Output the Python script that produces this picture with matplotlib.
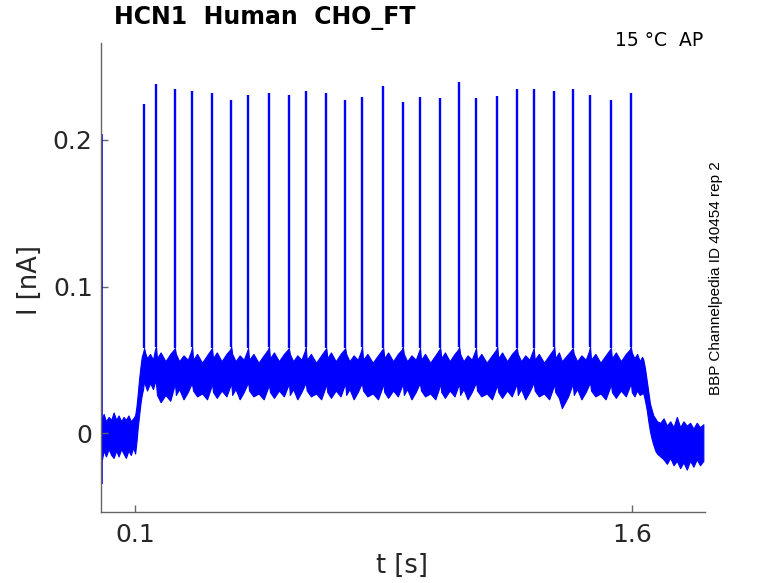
import numpy as np
import matplotlib
matplotlib.use("Agg")
import matplotlib.pyplot as plt

# ---------------- data ----------------
spike_t = [0.127, 0.163, 0.220, 0.272, 0.332, 0.390, 0.441, 0.504, 0.564,
           0.615, 0.677, 0.734, 0.785, 0.849, 0.908, 0.960, 1.021, 1.078,
           1.129, 1.193, 1.252, 1.303, 1.365, 1.421, 1.473, 1.536, 1.596]
spike_peak = [0.2244, 0.2382, 0.2348, 0.2334, 0.2319, 0.2273, 0.2307, 0.2321,
              0.2305, 0.2334, 0.2321, 0.2273, 0.2291, 0.2367, 0.2259, 0.2291,
              0.2287, 0.2398, 0.2289, 0.2302, 0.2350, 0.2348, 0.2334, 0.2350,
              0.2305, 0.2273, 0.2321]
spike_base_lo = [0.036, 0.034, 0.035, 0.033, 0.035, 0.034, 0.035, 0.033, 0.035,
                 0.034, 0.035, 0.034, 0.033, 0.035, 0.034, 0.033, 0.035, 0.034,
                 0.035, 0.033, 0.034, 0.035, 0.034, 0.033, 0.035, 0.034, 0.035]
spike_base_hi = [0.058, 0.059, 0.058, 0.059, 0.058, 0.059, 0.058, 0.059, 0.058,
                 0.059, 0.058, 0.058, 0.059, 0.058, 0.059, 0.058, 0.058, 0.059,
                 0.058, 0.059, 0.058, 0.058, 0.059, 0.058, 0.059, 0.058, 0.059]

# noise band of the recorded current (lower / upper envelope)
band_t = [
    0.000, 0.005, 0.012, 0.020, 0.028, 0.035, 0.043, 0.050, 0.058, 0.065,
    0.072, 0.080, 0.087, 0.094, 0.100, 0.104, 0.108, 0.112, 0.116, 0.120, 0.124,
    0.130, 0.136, 0.145, 0.154, 0.160,
    0.166, 0.177, 0.1915, 0.206, 0.217,
    0.223, 0.233, 0.246, 0.259, 0.269,
    0.275, 0.287, 0.302, 0.317, 0.329,
    0.335, 0.3465, 0.361, 0.3755, 0.387,
    0.393, 0.403, 0.4155, 0.428, 0.438,
    0.444, 0.457, 0.4725, 0.488, 0.501,
    0.507, 0.519, 0.534, 0.549, 0.561,
    0.567, 0.577, 0.5895, 0.602, 0.612,
    0.618, 0.6305, 0.646, 0.6615, 0.674,
    0.680, 0.691, 0.7055, 0.720, 0.731,
    0.737, 0.747, 0.7595, 0.772, 0.782,
    0.788, 0.801, 0.817, 0.833, 0.846,
    0.852, 0.8635, 0.8785, 0.893, 0.905,
    0.911, 0.921, 0.934, 0.947, 0.957,
    0.963, 0.975, 0.9905, 1.006, 1.018,
    1.024, 1.035, 1.0495, 1.064, 1.075,
    1.081, 1.091, 1.1035, 1.116, 1.126,
    1.132, 1.145, 1.161, 1.177, 1.190,
    1.196, 1.2075, 1.2225, 1.237, 1.249,
    1.255, 1.265, 1.2775, 1.290, 1.300,
    1.306, 1.3185, 1.334, 1.3495, 1.362,
    1.368, 1.379, 1.388, 1.407, 1.418,
    1.424, 1.434, 1.447, 1.460, 1.470,
    1.476, 1.489, 1.5045, 1.520, 1.533,
    1.539, 1.551, 1.566, 1.581, 1.593,
    1.599, 1.607, 1.615, 1.623, 1.630,
    1.634, 1.639, 1.644, 1.649, 1.654, 1.659, 1.664, 1.670, 1.675, 1.685,
    1.695, 1.705, 1.715, 1.725, 1.735, 1.745, 1.755, 1.765, 1.775, 1.785,
    1.795, 1.805, 1.815]
band_lo = [
    -0.018, -0.012, -0.016, -0.011, -0.015, -0.017, -0.012, -0.016, -0.011, -0.014,
    -0.017, -0.012, -0.015, -0.010, -0.014, -0.006, 0.004, 0.012, 0.020, 0.026, 0.030,
    0.033, 0.029, 0.034, 0.030, 0.035,
    0.026, 0.021, 0.026, 0.022, 0.031,
    0.026, 0.030, 0.023, 0.028, 0.033,
    0.029, 0.025, 0.027, 0.023, 0.031,
    0.028, 0.024, 0.029, 0.025, 0.032,
    0.026, 0.030, 0.023, 0.028, 0.033,
    0.029, 0.025, 0.027, 0.023, 0.031,
    0.028, 0.024, 0.029, 0.025, 0.032,
    0.026, 0.030, 0.023, 0.028, 0.033,
    0.029, 0.025, 0.027, 0.023, 0.031,
    0.028, 0.024, 0.029, 0.025, 0.032,
    0.026, 0.030, 0.023, 0.028, 0.033,
    0.029, 0.025, 0.027, 0.023, 0.031,
    0.028, 0.024, 0.029, 0.025, 0.032,
    0.026, 0.030, 0.023, 0.028, 0.033,
    0.029, 0.025, 0.027, 0.023, 0.031,
    0.028, 0.024, 0.029, 0.025, 0.032,
    0.026, 0.030, 0.023, 0.028, 0.033,
    0.029, 0.025, 0.027, 0.023, 0.031,
    0.028, 0.024, 0.029, 0.025, 0.032,
    0.026, 0.030, 0.023, 0.028, 0.033,
    0.029, 0.025, 0.027, 0.023, 0.031,
    0.028, 0.024, 0.017, 0.025, 0.032,
    0.026, 0.030, 0.023, 0.028, 0.033,
    0.029, 0.025, 0.027, 0.023, 0.031,
    0.028, 0.024, 0.029, 0.025, 0.032,
    0.028, 0.025, 0.029, 0.026, 0.027,
    0.027, 0.022, 0.016, 0.008, 0.001, -0.004, -0.008, -0.012, -0.014, -0.016,
    -0.018, -0.021, -0.017, -0.022, -0.019, -0.024, -0.020, -0.025, -0.019, -0.023,
    -0.018, -0.022, -0.019]
band_hi = [
    0.010, 0.013, 0.008, 0.011, 0.009, 0.014, 0.009, 0.012, 0.008, 0.011,
    0.009, 0.012, 0.008, 0.010, 0.012, 0.018, 0.027, 0.037, 0.045, 0.052, 0.055,
    0.055, 0.051, 0.054, 0.050, 0.057,
    0.051, 0.055, 0.049, 0.054, 0.057,
    0.054, 0.049, 0.053, 0.050, 0.056,
    0.050, 0.054, 0.048, 0.053, 0.057,
    0.051, 0.055, 0.049, 0.054, 0.057,
    0.054, 0.049, 0.053, 0.050, 0.056,
    0.050, 0.054, 0.048, 0.053, 0.057,
    0.051, 0.055, 0.049, 0.054, 0.057,
    0.054, 0.049, 0.053, 0.050, 0.056,
    0.050, 0.054, 0.048, 0.053, 0.057,
    0.051, 0.055, 0.049, 0.054, 0.057,
    0.054, 0.049, 0.053, 0.050, 0.056,
    0.050, 0.054, 0.048, 0.053, 0.057,
    0.051, 0.055, 0.049, 0.054, 0.057,
    0.054, 0.049, 0.053, 0.050, 0.056,
    0.050, 0.054, 0.048, 0.053, 0.057,
    0.051, 0.055, 0.049, 0.054, 0.057,
    0.054, 0.049, 0.053, 0.050, 0.056,
    0.050, 0.054, 0.048, 0.053, 0.057,
    0.051, 0.055, 0.049, 0.054, 0.057,
    0.054, 0.049, 0.053, 0.050, 0.056,
    0.050, 0.054, 0.048, 0.053, 0.057,
    0.051, 0.055, 0.049, 0.054, 0.057,
    0.054, 0.049, 0.053, 0.050, 0.056,
    0.050, 0.054, 0.048, 0.053, 0.057,
    0.051, 0.055, 0.049, 0.054, 0.057,
    0.055, 0.051, 0.054, 0.049, 0.052,
    0.050, 0.044, 0.036, 0.028, 0.020, 0.016, 0.012, 0.010, 0.008, 0.007,
    0.010, 0.005, 0.008, 0.004, 0.011, 0.004, 0.008, 0.005, 0.007, 0.003,
    0.007, 0.004, 0.006]

transient_t = [0.0]
transient_lo = [-0.035]
transient_hi = [0.204]

xticks = [0.1, 1.6]
xticklabels = ["0.1", "1.6"]
yticks = [0.0, 0.1, 0.2]
yticklabels = ["0", "0.1", "0.2"]

# ---------------- figure ----------------
W, H = 778, 583
fig = plt.figure(figsize=(W / 100, H / 100), dpi=100)
ax = fig.add_axes([101 / W, 1 - 512 / H, (705 - 101) / W, (512 - 43) / H])

blue = "#0000ff"
t_all = np.array(band_t + spike_t)
lo_all = np.array(band_lo + spike_base_lo)
hi_all = np.array(band_hi + spike_base_hi)
order = np.argsort(t_all, kind="stable")
ax.fill_between(t_all[order], lo_all[order], hi_all[order], color=blue,
                lw=0.8, edgecolor=blue)
ax.vlines(spike_t, spike_base_hi, spike_peak, color=blue, lw=1.7)
ax.vlines(transient_t, transient_lo, transient_hi, color=blue, lw=1.2)

ax.set_xlim(-0.003, 1.82)
ax.set_ylim(-0.0539, 0.2662)
ax.set_xticks(xticks)
ax.set_xticklabels(xticklabels)
ax.set_yticks(yticks)
ax.set_yticklabels(yticklabels)

for s in ("top", "right"):
    ax.spines[s].set_visible(False)
for s in ("left", "bottom"):
    ax.spines[s].set_color("#666666")
    ax.spines[s].set_linewidth(1.0)
ax.tick_params(direction="in", length=5, width=1, color="#666666",
               labelcolor="#262626", labelsize=18)
ax.tick_params(axis="x", pad=8)
ax.tick_params(axis="y", pad=6)

ax.set_xlabel("t [s]", fontsize=18.5, color="#262626", va="center")
ax.set_ylabel("I [nA]", fontsize=18.5, color="#262626", va="center")
ax.xaxis.set_label_coords((402 - 101) / 604, (512 - 566) / 469)
ax.yaxis.set_label_coords((30 - 101) / 604, (512 - 280) / 469)

fig.text(114 / W, 1 - 18 / H, "HCN1  Human  CHO_FT", fontsize=17,
         fontweight="bold", ha="left", va="center", color="black")
fig.text(703 / W, 1 - 41 / H, "15 °C  AP", fontsize=13.5, ha="right",
         va="center", color="black")
fig.text(716 / W, 1 - 278 / H, "BBP Channelpedia ID 40454 rep 2",
         family="Liberation Sans", fontsize=11, rotation=90, ha="center",
         va="center", color="black")

fig.savefig("out.png", dpi=100)
